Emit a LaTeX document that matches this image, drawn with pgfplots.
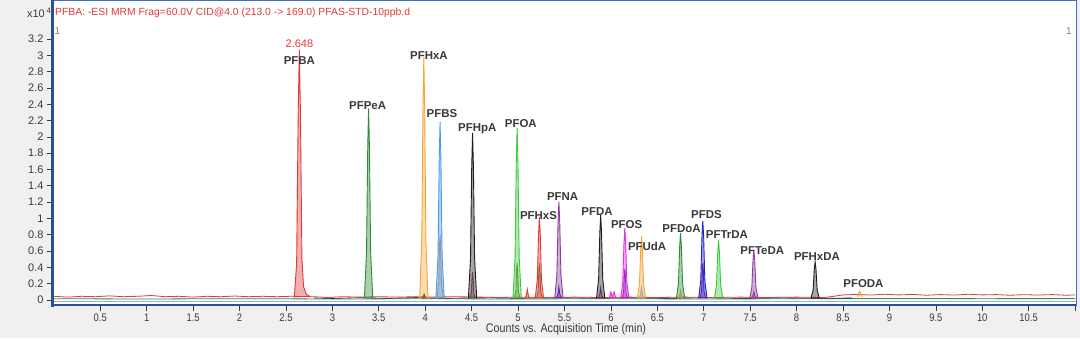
\documentclass[border=0pt]{standalone}
\usepackage{fontspec}
\setmainfont{Liberation Sans}
\usepackage{graphicx}
\usepackage{pgfplots}
\pgfplotsset{compat=1.18}
\definecolor{bgray}{HTML}{F0F0F0}
\definecolor{fblue}{HTML}{3F6FC2}
\definecolor{fdark}{HTML}{2B4F93}
\definecolor{flight}{HTML}{8DB0E4}
\definecolor{tgray}{HTML}{3A3A3A}
\definecolor{cred}{HTML}{E2383A}
\definecolor{cdgreen}{HTML}{2E8B36}
\definecolor{corange}{HTML}{F2A638}
\definecolor{clblue}{HTML}{4A98E8}
\definecolor{cblack}{HTML}{1E1E1E}
\definecolor{clgreen}{HTML}{3CCB3C}
\definecolor{cpurple}{HTML}{8E3A9E}
\definecolor{cmag}{HTML}{E82AE8}
\definecolor{cdblue}{HTML}{2424C4}
\definecolor{ctan}{HTML}{B89A78}
\definecolor{cmauve}{HTML}{A05A72}
\definecolor{colive}{HTML}{7E7A30}
\definecolor{cviolet}{HTML}{6A2AA8}
\definecolor{cskyb}{HTML}{6AB0D0}
\newcommand{\sq}[1]{\scalebox{0.86}[1]{#1}}
\pgfplotsset{pk/.style={line width=0.9bp, draw=#1, fill=#1, fill opacity=0.4, draw opacity=1, mark=none, forget plot}}
\tikzset{lbl/.style={font=\bfseries\fontsize{11.5}{12}\selectfont, text=tgray, inner sep=0pt}}
\begin{document}
\begin{tikzpicture}[x=1bp,y=1bp]
\fill[bgray] (0,0) rectangle (1080,338);
\useasboundingbox (0,0) rectangle (1080,338);
\begin{axis}[
  at={(52bp,32bp)}, anchor=south west,
  scale only axis, width=1024bp, height=306bp,
  xmin=-0.02, xmax=11.01, ymin=-0.074, ymax=3.678,
  axis background/.style={fill=white},
  axis line style={draw=none},
  tick align=outside, major tick length=5bp,
  xtick pos=bottom, ytick pos=left,
  tick style={draw=tgray, line width=0.6bp},
  xtick={0.5,1,1.5,2,2.5,3,3.5,4,4.5,5,5.5,6,6.5,7,7.5,8,8.5,9,9.5,10,10.5,11},
  xticklabels={\sq{0.5},\sq{1},\sq{1.5},\sq{2},\sq{2.5},\sq{3},\sq{3.5},\sq{4},\sq{4.5},\sq{5},\sq{5.5},\sq{6},\sq{6.5},\sq{7},\sq{7.5},\sq{8},\sq{8.5},\sq{9},\sq{9.5},\sq{10},\sq{10.5},{}},
  ytick={0,0.2,...,3.21},
  /pgf/number format/assume math mode=true,
  /pgf/number format/fixed, /pgf/number format/precision=1,
  scaled y ticks=false,
  ticklabel style={font=\fontsize{11}{12}\selectfont, text=tgray},
  xticklabel style={yshift=1bp},
  clip=false,
]
% baselines
\addplot[draw=cdgreen, line width=0.8bp, forget plot] coordinates {(0,0.015)(1,0.012)(2,0.016)(3,0.012)(4,0.015)(5,0.012)(6,0.016)(7,0.012)(8,0.015)(9,0.018)(10,0.016)(11,0.017)};
\addplot[draw=cblack, line width=0.6bp, forget plot] coordinates {(2.8,0.025)(3.0,0.018)(3.3,0.028)(3.6,0.02)(3.9,0.03)(4.2,0.02)(4.6,0.028)(5.0,0.02)(5.4,0.03)(5.8,0.022)(6.2,0.028)(6.6,0.02)(7.0,0.027)(7.4,0.02)(7.8,0.026)(8.3,0.02)(8.6,0.025)};
\addplot[draw=cred, line width=0.8bp, forget plot] coordinates {(0,0.045)(0.15,0.035)(0.3,0.045)(0.45,0.04)(0.6,0.05)(0.75,0.04)(0.9,0.045)(1.05,0.055)(1.2,0.04)(1.35,0.045)(1.5,0.035)(1.65,0.045)(1.8,0.04)(1.95,0.048)(2.1,0.04)(2.25,0.045)(2.4,0.04)(2.55,0.045)(2.8,0.04)(2.95,0.03)(3.1,0.04)(3.3,0.035)(3.5,0.04)(3.7,0.035)(3.9,0.04)(4.1,0.035)(4.3,0.04)(4.6,0.035)(4.8,0.03)(5.0,0.035)(5.3,0.03)(5.6,0.035)(5.9,0.03)(6.2,0.035)(6.5,0.03)(6.8,0.035)(7.1,0.03)(7.4,0.035)(7.7,0.03)(8.0,0.035)(8.3,0.03)(8.4,0.045)(8.5,0.062)(8.65,0.068)(8.8,0.06)(8.95,0.07)(9.1,0.062)(9.25,0.068)(9.4,0.058)(9.55,0.066)(9.7,0.06)(9.85,0.07)(10.0,0.062)(10.15,0.066)(10.3,0.058)(10.45,0.065)(10.6,0.06)(10.75,0.066)(10.9,0.058)(11.0,0.062)};
% secondary transitions
\addplot[pk=ctan] coordinates {(4.125,0.02)(4.145,0.2)(4.154,0.64)(4.16,0.8)(4.166,0.64)(4.175,0.2)(4.195,0.02)};
\addplot[pk=cmauve] coordinates {(4.48,0.02)(4.497,0.085)(4.504,0.27)(4.51,0.34)(4.516,0.27)(4.523,0.085)(4.54,0.02)};
\addplot[pk=colive] coordinates {(4.96,0.02)(4.977,0.11)(4.984,0.36)(4.99,0.45)(4.996,0.36)(5.003,0.11)(5.02,0.02)};
\addplot[pk=colive] coordinates {(5.2,0.02)(5.217,0.11)(5.224,0.36)(5.23,0.45)(5.236,0.36)(5.243,0.11)(5.26,0.02)};
\addplot[pk=cdblue] coordinates {(5.415,0.02)(5.432,0.08)(5.44,0.16)(5.448,0.08)(5.465,0.02)};
\addplot[pk=cpurple] coordinates {(5.865,0.02)(5.882,0.08)(5.89,0.15)(5.898,0.08)(5.915,0.02)};
\addplot[pk=cviolet] coordinates {(6.12,0.02)(6.137,0.095)(6.144,0.3)(6.15,0.38)(6.156,0.3)(6.163,0.095)(6.18,0.02)};
\addplot[pk=cskyb] coordinates {(6.305,0.02)(6.322,0.08)(6.33,0.15)(6.338,0.08)(6.355,0.02)};
\addplot[pk=corange] coordinates {(6.725,0.02)(6.742,0.06)(6.75,0.11)(6.758,0.06)(6.775,0.02)};
\addplot[pk=cviolet] coordinates {(6.96,0.02)(6.977,0.11)(6.984,0.36)(6.99,0.45)(6.996,0.36)(7.003,0.11)(7.02,0.02)};
\addplot[pk=cpurple] coordinates {(7.515,0.02)(7.532,0.06)(7.54,0.1)(7.548,0.06)(7.565,0.02)};
\addplot[pk=cblack] coordinates {(3.965,0.02)(3.98,0.045)(3.988,0.07)(3.996,0.045)(4.01,0.02)};
% main peaks
\addplot[pk=cred] coordinates {(2.59,0.03)(2.615,0.45)(2.632,2.3)(2.644,3.07)(2.656,2.3)(2.672,0.5)(2.69,0.16)(2.72,0.07)(2.76,0.04)};
\addplot[pk=cdgreen] coordinates {(3.345,0.02)(3.368,0.59)(3.381,1.88)(3.39,2.35)(3.399,1.88)(3.412,0.59)(3.435,0.02)};
\addplot[pk=corange] coordinates {(3.94,0.02)(3.963,0.745)(3.976,2.38)(3.985,2.98)(3.994,2.38)(4.007,0.745)(4.03,0.02)};
\addplot[pk=clblue] coordinates {(4.115,0.02)(4.138,0.545)(4.151,1.74)(4.16,2.18)(4.169,1.74)(4.182,0.545)(4.205,0.02)};
\addplot[pk=cblack] coordinates {(4.465,0.02)(4.488,0.51)(4.501,1.64)(4.51,2.05)(4.519,1.64)(4.532,0.51)(4.555,0.02)};
\addplot[pk=clgreen] coordinates {(4.945,0.02)(4.968,0.53)(4.981,1.69)(4.99,2.11)(4.999,1.69)(5.012,0.53)(5.035,0.02)};
\addplot[pk=cred] coordinates {(5.075,0.02)(5.09,0.06)(5.10,0.13)(5.11,0.06)(5.125,0.02)};
\addplot[pk=cred] coordinates {(5.185,0.02)(5.208,0.255)(5.221,0.82)(5.23,1.02)(5.239,0.82)(5.252,0.255)(5.275,0.02)};
\addplot[pk=cpurple] coordinates {(5.395,0.02)(5.418,0.3)(5.431,0.96)(5.44,1.2)(5.449,0.96)(5.462,0.3)(5.485,0.02)};
\addplot[pk=cblack] coordinates {(5.845,0.02)(5.868,0.26)(5.881,0.83)(5.89,1.04)(5.899,0.83)(5.912,0.26)(5.935,0.02)};
\addplot[pk=cmag] coordinates {(5.98,0.02)(5.992,0.06)(6.0,0.1)(6.008,0.06)(6.017,0.04)(6.027,0.07)(6.035,0.1)(6.043,0.06)(6.055,0.02)};
\addplot[pk=cmag] coordinates {(6.105,0.02)(6.128,0.22)(6.141,0.7)(6.15,0.88)(6.159,0.7)(6.172,0.22)(6.195,0.02)};
\addplot[pk=corange] coordinates {(6.285,0.02)(6.308,0.195)(6.321,0.62)(6.33,0.78)(6.339,0.62)(6.352,0.195)(6.375,0.02)};
\addplot[pk=cdgreen] coordinates {(6.705,0.02)(6.728,0.205)(6.741,0.66)(6.75,0.82)(6.759,0.66)(6.772,0.205)(6.795,0.02)};
\addplot[pk=cdblue] coordinates {(6.945,0.02)(6.968,0.24)(6.981,0.78)(6.99,0.97)(6.999,0.78)(7.012,0.24)(7.035,0.02)};
\addplot[pk=clgreen] coordinates {(7.115,0.02)(7.138,0.185)(7.151,0.59)(7.16,0.74)(7.169,0.59)(7.182,0.185)(7.205,0.02)};
\addplot[pk=cpurple] coordinates {(7.495,0.02)(7.518,0.15)(7.531,0.49)(7.54,0.61)(7.549,0.49)(7.562,0.15)(7.585,0.02)};
\addplot[pk=cblack] coordinates {(8.155,0.02)(8.178,0.12)(8.191,0.38)(8.2,0.47)(8.209,0.38)(8.222,0.12)(8.245,0.02)};
\addplot[pk=corange] coordinates {(8.65,0.04)(8.67,0.08)(8.68,0.11)(8.69,0.08)(8.71,0.04)};
% labels
\node[font=\fontsize{11}{12}\selectfont, text=cred, inner sep=0pt] at (axis cs:2.645,3.14) {2.648};
\node[lbl] at (axis cs:2.645,2.93) {PFBA};
\node[lbl] at (axis cs:3.38,2.38) {PFPeA};
\node[lbl] at (axis cs:4.04,3.0) {PFHxA};
\node[lbl] at (axis cs:4.18,2.29) {PFBS};
\node[lbl] at (axis cs:4.56,2.10) {PFHpA};
\node[lbl] at (axis cs:5.03,2.16) {PFOA};
\node[lbl] at (axis cs:5.22,1.03) {PFHxS};
\node[lbl] at (axis cs:5.48,1.27) {PFNA};
\node[lbl] at (axis cs:5.85,1.08) {PFDA};
\node[lbl] at (axis cs:6.17,0.92) {PFOS};
\node[lbl] at (axis cs:6.39,0.66) {PFUdA};
\node[lbl] at (axis cs:6.76,0.87) {PFDoA};
\node[lbl] at (axis cs:7.03,1.05) {PFDS};
\node[lbl] at (axis cs:7.25,0.80) {PFTrDA};
\node[lbl] at (axis cs:7.63,0.60) {PFTeDA};
\node[lbl] at (axis cs:8.22,0.53) {PFHxDA};
\node[lbl] at (axis cs:8.72,0.20) {PFODA};
\end{axis}
% frame
\draw[flight, line width=1.2bp] (52,36.3) -- (1076.5,36.3);
\draw[fdark, line width=2.4bp] (52,33.2) -- (1076.5,33.2);
\draw[fblue, line width=1.4bp] (52,337.3) -- (1076.5,337.3) -- (1076.5,32);
\draw[fdark, line width=3bp] (52,338) -- (52,31.5);
% texts
\node[anchor=west, inner sep=0pt, text=cred, font=\fontsize{10.4}{12}\selectfont] at (55,325) {PFBA: -ESI MRM Frag=60.0V CID@4.0 (213.0 -> 169.0) PFAS-STD-10ppb.d};
\node[anchor=east, inner sep=0pt, text=tgray, font=\fontsize{11}{12}\selectfont] at (45,324) {x10};
\node[anchor=west, inner sep=0pt, text=tgray, font=\fontsize{8}{9}\selectfont] at (46.5,327) {4};
\node[inner sep=0pt, text=gray, font=\fontsize{10}{11}\selectfont] at (57.5,307) {1};
\node[inner sep=0pt, text=gray, font=\fontsize{10}{11}\selectfont] at (1069,307) {1};
\node[inner sep=0pt, text=tgray, font=\fontsize{12.5}{13}\selectfont] at (566,9) {\sq{Counts vs. Acquisition Time (min)}};
\end{tikzpicture}
\end{document}
